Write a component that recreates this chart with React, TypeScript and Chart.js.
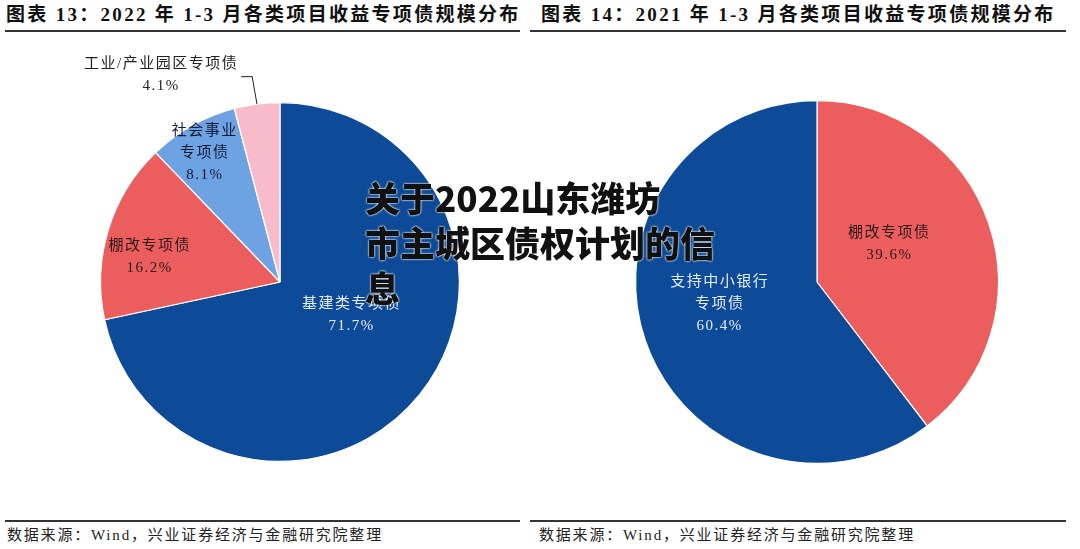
import React, { useEffect, useRef } from "react";
import { Chart, registerables } from "chart.js";

Chart.register(...registerables);

// ---- Data ----
const leftTitle = "图表 13：2022 年 1-3 月各类项目收益专项债规模分布";
const rightTitle = "图表 14：2021 年 1-3 月各类项目收益专项债规模分布";
const sourceText = "数据来源：Wind，兴业证券经济与金融研究院整理";
const watermark = ["关于2022山东潍坊", "市主城区债权计划的信", "息"];

const leftCategories = ["基建类专项债", "棚改专项债", "社会事业专项债", "工业/产业园区专项债"];
const leftLabelLines = [["基建类专项债"], ["棚改专项债"], ["社会事业", "专项债"], ["工业/产业园区专项债"]];
const leftValues = [71.7, 16.2, 8.1, 4.1];

const rightCategories = ["棚改专项债", "支持中小银行专项债"];
const rightLabelLines = [["棚改专项债"], ["支持中小银行", "专项债"]];
const rightValues = [39.6, 60.4];

const DARK_BLUE = "#0D4B98";
const RED = "#EC5D5E";
const LIGHT_BLUE = "#6EA3E3";
const PINK = "#F8BBCB";

const leftColors = [DARK_BLUE, RED, LIGHT_BLUE, PINK];
const rightColors = [RED, DARK_BLUE];

// label placement: radius fraction, angle offset (deg), text colour, outside?
type LabelCfg = { rf: number; da: number; color: string; outside?: boolean };
const leftLabelCfg: LabelCfg[] = [
  { rf: 0.44, da: -14, color: "#E6ECF5" },
  { rf: 0.74, da: -6, color: "#2a1a1a" },
  { rf: 0.83, da: -1, color: "#111a33" },
  { rf: 1.0, da: 0, color: "#222", outside: true },
];
const rightLabelCfg: LabelCfg[] = [
  { rf: 0.45, da: -9, color: "#2a1a1a" },
  { rf: 0.55, da: 6, color: "#E6ECF5" },
];

const FONT = "'Liberation Serif', 'Noto Sans CJK SC', serif";

function makeLabelPlugin(lines: string[][], values: number[], cfg: LabelCfg[]) {
  return {
    id: "sliceLabels",
    afterDatasetsDraw(chart: any) {
      const ctx = chart.ctx;
      const meta = chart.getDatasetMeta(0);
      ctx.save();
      ctx.font = `15px ${FONT}`;
      try {
        (ctx as any).letterSpacing = "1.5px";
      } catch (e) {}
      ctx.textAlign = "center";
      ctx.textBaseline = "middle";
      meta.data.forEach((arc: any, i: number) => {
        const c = cfg[i];
        const { x, y, startAngle, endAngle, outerRadius } = arc.getProps(
          ["x", "y", "startAngle", "endAngle", "outerRadius"],
          true
        );
        const mid = (startAngle + endAngle) / 2;
        const textLines = [...lines[i], values[i].toFixed(1) + "%"];
        const lh = 22;
        if (c.outside) {
          const ex = x + Math.cos(mid) * outerRadius;
          const ey = y + Math.sin(mid) * outerRadius;
          const kx = x + Math.cos(mid - 0.006) * outerRadius * 1.155;
          const ky = y + Math.sin(mid - 0.006) * outerRadius * 1.155;
          const hx = kx - 11;
          ctx.strokeStyle = "#222";
          ctx.lineWidth = 1;
          ctx.beginPath();
          ctx.moveTo(ex, ey);
          ctx.lineTo(kx, ky);
          ctx.lineTo(hx, ky);
          ctx.stroke();
          ctx.fillStyle = c.color;
          const cx = hx - 80;
          const cy = ky - 2;
          textLines.forEach((t, j) => {
            ctx.fillText(t, cx, cy + (j - (textLines.length - 1) / 2) * lh);
          });
        } else {
          const a = mid + (c.da * Math.PI) / 180;
          const cx = x + Math.cos(a) * outerRadius * c.rf;
          const cy = y + Math.sin(a) * outerRadius * c.rf;
          ctx.fillStyle = c.color;
          textLines.forEach((t, j) => {
            ctx.fillText(t, cx, cy + (j - (textLines.length - 1) / 2) * lh);
          });
        }
      });
      ctx.restore();
    },
  };
}

function PieCanvas(props: {
  labels: string[];
  values: number[];
  colors: string[];
  lines: string[][];
  cfg: LabelCfg[];
  padding: { left: number; right: number; top: number; bottom: number };
  style: React.CSSProperties;
  width: number;
  height: number;
}) {
  const ref = useRef<HTMLCanvasElement | null>(null);
  useEffect(() => {
    if (!ref.current) return;
    const chart = new Chart(ref.current, {
      type: "pie",
      data: {
        labels: props.labels,
        datasets: [
          {
            data: props.values,
            backgroundColor: props.colors,
            borderColor: "#ffffff",
            borderWidth: 1.2,
          },
        ],
      },
      options: {
        animation: false,
        responsive: false,
        maintainAspectRatio: false,
        layout: { padding: props.padding },
        plugins: {
          legend: { display: false },
          tooltip: { enabled: false },
        },
      },
      plugins: [makeLabelPlugin(props.lines, props.values, props.cfg)],
    } as any);
    return () => chart.destroy();
  }, []);
  return (
    <canvas
      ref={ref}
      width={props.width}
      height={props.height}
      style={{ position: "absolute", width: props.width, height: props.height, ...props.style }}
    />
  );
}

const titleStyle: React.CSSProperties = {
  position: "absolute",
  top: 4,
  fontFamily: "'Liberation Serif', 'Noto Sans CJK SC', serif",
  fontWeight: 700,
  fontSize: 19,
  lineHeight: "22px",
  color: "#111",
  whiteSpace: "nowrap",
  letterSpacing: 2.3,
};
const sourceStyle: React.CSSProperties = {
  position: "absolute",
  top: 525,
  fontFamily: "'Liberation Serif', 'Noto Sans CJK SC', serif",
  fontSize: 15,
  lineHeight: "20px",
  color: "#222",
  whiteSpace: "nowrap",
  letterSpacing: 1.8,
};

export default function App() {
  useEffect(() => {
    document.body.style.margin = "0";
    document.body.style.background = "#fff";
  }, []);
  return (
    <div
      style={{
        position: "fixed",
        left: 0,
        top: 0,
        width: 1080,
        height: 549,
        background: "#fff",
        overflow: "hidden",
      }}
    >
      <div style={{ ...titleStyle, left: 6 }}>{leftTitle}</div>
      <div style={{ ...titleStyle, left: 541 }}>{rightTitle}</div>
      <div style={{ position: "absolute", left: 5, top: 30, width: 515, height: 2, background: "#333" }} />
      <div style={{ position: "absolute", left: 530, top: 30, width: 536, height: 2, background: "#333" }} />

      <PieCanvas
        labels={leftCategories}
        values={leftValues}
        colors={leftColors}
        lines={leftLabelLines}
        cfg={leftLabelCfg}
        width={560}
        height={470}
        padding={{ left: 100, right: 100, top: 62, bottom: 48 }}
        style={{ left: 0, top: 40 }}
      />
      <PieCanvas
        labels={rightCategories}
        values={rightValues}
        colors={rightColors}
        lines={rightLabelLines}
        cfg={rightLabelCfg}
        width={540}
        height={470}
        padding={{ left: 95, right: 81, top: 60, bottom: 46 }}
        style={{ left: 540, top: 40 }}
      />

      <div style={{ position: "absolute", left: 5, top: 520, width: 515, height: 1.5, background: "#333" }} />
      <div style={{ position: "absolute", left: 530, top: 520, width: 536, height: 1.5, background: "#333" }} />
      <div style={{ ...sourceStyle, left: 7 }}>{sourceText}</div>
      <div style={{ ...sourceStyle, left: 539 }}>{sourceText}</div>

      <div
        style={{
          position: "absolute",
          left: 365,
          top: 174,
          fontFamily: "'Noto Sans CJK SC', sans-serif",
          fontWeight: 900,
          fontSize: 35,
          lineHeight: "45px",
          color: "#111",
          textShadow: "0 0 2px #fff, 0 0 2px #fff",
          whiteSpace: "nowrap",
        }}
      >
        {watermark.map((l, i) => (
          <div key={i}>{l}</div>
        ))}
      </div>
    </div>
  );
}
